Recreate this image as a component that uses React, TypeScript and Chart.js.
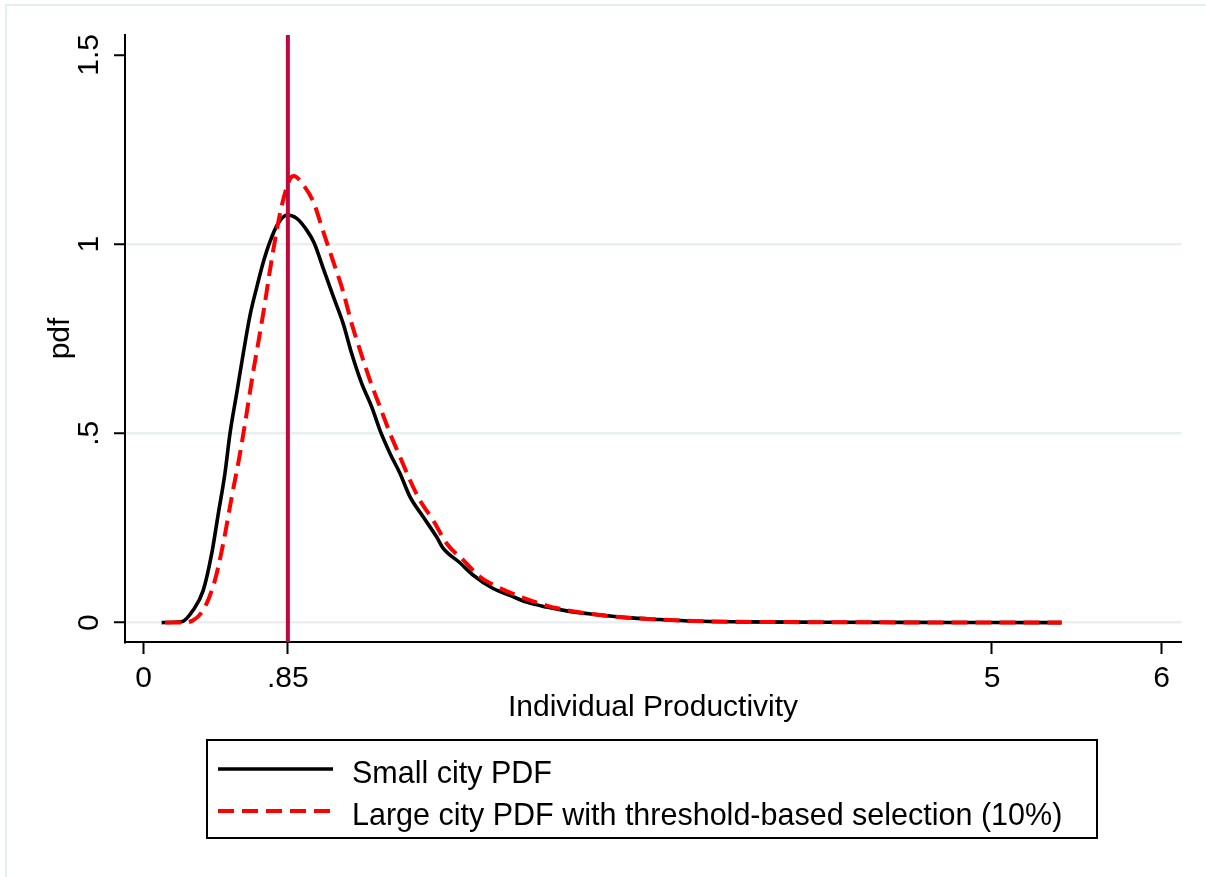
import React, { useEffect, useRef } from "react";
import { Chart, registerables } from "chart.js";

Chart.register(...registerables);

// ---- data ----
const smallX = [0.106, 0.224, 0.292, 0.351, 0.401, 0.440, 0.479, 0.509, 0.548, 0.587, 0.627, 0.666, 0.705, 0.744, 0.793, 0.847, 0.902, 0.961, 1.005, 1.059, 1.118, 1.176, 1.226, 1.285, 1.344, 1.393, 1.452, 1.511, 1.570, 1.648, 1.727, 1.766, 1.864, 1.943, 2.060, 2.159, 2.257, 2.375, 2.493, 2.650, 2.847, 3.043, 3.239, 3.5, 4.0, 4.5, 5.0, 5.41];
const smallY = [0, 0.002, 0.033, 0.085, 0.182, 0.288, 0.394, 0.5, 0.605, 0.711, 0.812, 0.885, 0.952, 1.006, 1.055, 1.077, 1.068, 1.037, 1.003, 0.935, 0.861, 0.790, 0.711, 0.632, 0.570, 0.508, 0.447, 0.394, 0.332, 0.279, 0.226, 0.196, 0.158, 0.125, 0.090, 0.072, 0.054, 0.041, 0.031, 0.022, 0.013, 0.008, 0.004, 0.002, 0.001, 0.0005, 0.0003, 0];

const largeX = [0.126, 0.224, 0.292, 0.361, 0.420, 0.469, 0.519, 0.568, 0.607, 0.646, 0.685, 0.715, 0.744, 0.774, 0.813, 0.862, 0.885, 0.941, 1.000, 1.059, 1.118, 1.176, 1.226, 1.275, 1.334, 1.393, 1.452, 1.511, 1.570, 1.628, 1.707, 1.786, 1.884, 1.982, 2.060, 2.198, 2.375, 2.493, 2.650, 2.847, 3.043, 3.239, 3.5, 4.0, 4.5, 5.0, 5.41];
const largeY = [0, 0, 0.006, 0.041, 0.112, 0.209, 0.332, 0.447, 0.553, 0.664, 0.764, 0.845, 0.930, 1.010, 1.100, 1.172, 1.18, 1.156, 1.112, 1.032, 0.953, 0.874, 0.790, 0.720, 0.640, 0.570, 0.500, 0.438, 0.376, 0.323, 0.270, 0.209, 0.165, 0.121, 0.100, 0.072, 0.045, 0.033, 0.022, 0.013, 0.008, 0.004, 0.002, 0.001, 0.0005, 0.0003, 0];

const refLineX = 0.85;

const xTickValues = [0, 0.85, 5, 6];
const xTickLabels = ["0", ".85", "5", "6"];
const yTickValues = [0, 0.5, 1, 1.5];
const yTickLabels = ["0", ".5", "1", "1.5"];
const yGridValues = [0, 0.5, 1];

const xMin = -0.11;
const xMax = 6.114;
const yMin = -0.0513;
const yMax = 1.5525;

const seriesLabels = ["Small city PDF", "Large city PDF with threshold-based selection (10%)"];
const xTitle = "Individual Productivity";
const yTitle = "pdf";

// ---- styles ----
const FONT = "'Liberation Sans', Arial, Helvetica, sans-serif";
const BLACK = "#000000";
const RED = "#FF0000";
const CRIMSON = "#C2073D";
const GRID = "rgb(232,240,242)";
const DASH = [16, 8];

const yLabelPlugin = {
  id: "yRotLabels",
  afterDraw(chart: any) {
    const s = chart.scales.y;
    const ctx = chart.ctx;
    ctx.save();
    ctx.fillStyle = BLACK;
    ctx.font = `30px ${FONT}`;
    ctx.textAlign = "center";
    ctx.textBaseline = "alphabetic";
    yTickValues.forEach((v, i) => {
      const py = s.getPixelForValue(v);
      ctx.save();
      ctx.translate(s.right - 27, py);
      ctx.rotate(-Math.PI / 2);
      ctx.fillText(yTickLabels[i], 0, 0);
      ctx.restore();
    });
    ctx.restore();
  },
};

function ChartCanvas() {
  const ref = useRef<HTMLCanvasElement | null>(null);
  useEffect(() => {
    if (!ref.current) return;
    const chart = new Chart(ref.current, {
      type: "line",
      data: {
        datasets: [
          {
            label: "ref",
            data: [
              { x: refLineX, y: yMin },
              { x: refLineX, y: yMax },
            ],
            borderColor: CRIMSON,
            borderWidth: 4,
            pointRadius: 0,
            order: 0,
          },
          {
            label: seriesLabels[1],
            data: largeX.map((x, i) => ({ x, y: largeY[i] })),
            borderColor: RED,
            borderWidth: 4,
            borderDash: DASH,
            pointRadius: 0,
            cubicInterpolationMode: "monotone",
            order: 1,
          },
          {
            label: seriesLabels[0],
            data: smallX.map((x, i) => ({ x, y: smallY[i] })),
            borderColor: BLACK,
            borderWidth: 3.6,
            pointRadius: 0,
            cubicInterpolationMode: "monotone",
            order: 2,
          },
        ],
      },
      options: {
        animation: false,
        responsive: false,
        devicePixelRatio: 1,
        layout: { padding: { left: 0, top: 35, right: 25, bottom: 151 } },
        plugins: { legend: { display: false }, tooltip: { enabled: false } },
        scales: {
          x: {
            type: "linear",
            min: xMin,
            max: xMax,
            afterFit: (s: any) => {
              s.height = 84;
            },
            afterBuildTicks: (s: any) => {
              s.ticks = xTickValues.map((v) => ({ value: v }));
            },
            ticks: {
              autoSkip: false,
              maxRotation: 0,
              padding: 7,
              color: BLACK,
              font: { family: FONT, size: 30 },
              callback: (_v: any, i: number) => xTickLabels[i],
            },
            grid: {
              drawOnChartArea: false,
              drawTicks: true,
              tickLength: 12,
              tickColor: BLACK,
              tickWidth: 2,
            },
            border: { display: true, color: BLACK, width: 2 },
            title: {
              display: true,
              text: xTitle,
              color: BLACK,
              font: { family: FONT, size: 30 },
              padding: 0,
            },
          },
          y: {
            type: "linear",
            min: yMin,
            max: yMax,
            afterFit: (s: any) => {
              s.width = 125;
            },
            afterBuildTicks: (s: any) => {
              s.ticks = yTickValues.map((v) => ({ value: v }));
            },
            ticks: { display: false },
            grid: {
              drawOnChartArea: true,
              drawTicks: true,
              tickLength: 11,
              tickColor: BLACK,
              tickWidth: 2,
              lineWidth: 2.5,
              color: (c: any) =>
                c.tick && yGridValues.includes(c.tick.value) ? GRID : "rgba(0,0,0,0)",
            },
            border: { display: true, color: BLACK, width: 2 },
            title: {
              display: true,
              text: yTitle,
              color: BLACK,
              font: { family: FONT, size: 30 },
              padding: { top: 43, bottom: 0 },
            },
          },
        },
      },
      plugins: [yLabelPlugin],
    } as any);
    return () => chart.destroy();
  }, []);
  return (
    <canvas
      ref={ref}
      width={1206}
      height={877}
      style={{ position: "absolute", left: 0, top: 0, width: 1206, height: 877 }}
    />
  );
}

export default function App() {
  const legendText: React.CSSProperties = {
    position: "absolute",
    left: 352,
    fontFamily: FONT,
    fontSize: 30.5,
    lineHeight: "30px",
    color: BLACK,
    whiteSpace: "nowrap",
  };
  return (
    <div
      style={{
        position: "absolute",
        left: 0,
        top: 0,
        width: 1206,
        height: 877,
        background: "#ffffff",
        overflow: "hidden",
      }}
    >
      <div
        style={{
          position: "absolute",
          left: 5,
          top: 4,
          width: 1300,
          height: 1000,
          borderTop: "2px solid #E6EDF0",
          borderLeft: "2px solid #E6EDF0",
        }}
      />
      <ChartCanvas />
      <div
        style={{
          position: "absolute",
          left: 206,
          top: 739,
          width: 888,
          height: 96,
          border: "2px solid #000",
          background: "transparent",
        }}
      />
      <svg
        width={120}
        height={80}
        style={{ position: "absolute", left: 218, top: 750 }}
      >
        <line x1={0} y1={19} x2={115} y2={19} stroke={BLACK} strokeWidth={3.6} />
        <line
          x1={0}
          y1={61}
          x2={115}
          y2={61}
          stroke={RED}
          strokeWidth={4}
          strokeDasharray={DASH.join(" ")}
        />
      </svg>
      <div style={{ ...legendText, top: 757 }}>{seriesLabels[0]}</div>
      <div style={{ ...legendText, top: 799 }}>{seriesLabels[1]}</div>
    </div>
  );
}
